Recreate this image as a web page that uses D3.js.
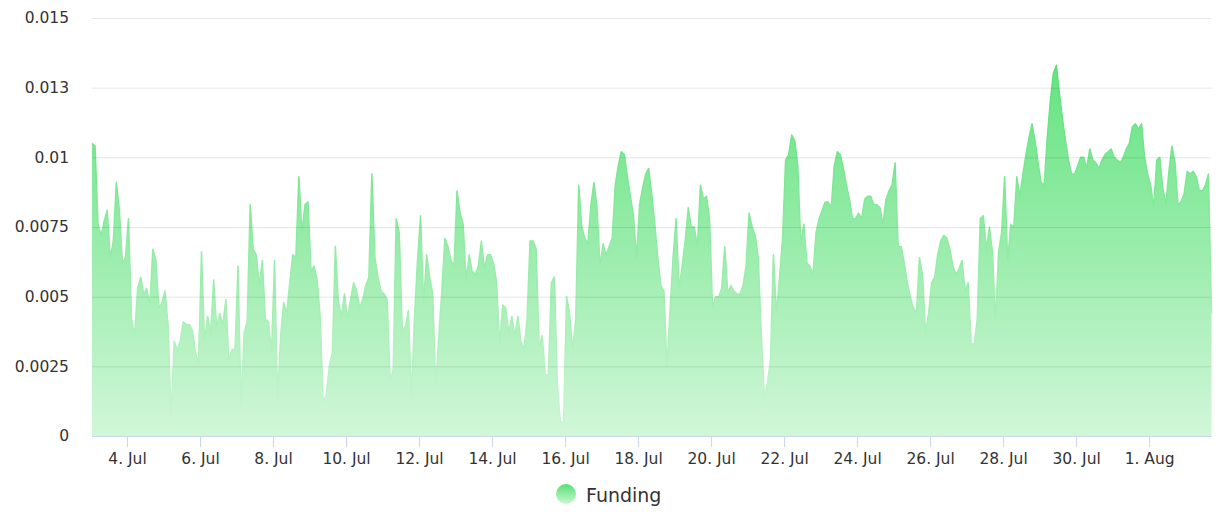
<!DOCTYPE html>
<html>
<head>
<meta charset="utf-8">
<script src="https://cdn.jsdelivr.net/npm/d3@7"></script>
<style>
  html, body { margin: 0; padding: 0; background: #ffffff; }
  svg { display: block; font-family: "DejaVu Sans", Verdana, sans-serif; }
</style>
</head>
<body>
<svg id="chart" width="1224" height="516"></svg>
<script>
// ---- data ----
const seriesName = "Funding";
const startTime = "2023-07-03T01:00:00Z";
const stepHours = 2;
const funding = [
  0.0105,0.0104,0.0076,0.0072,0.0077,0.0081,0.0064,0.0070,0.0091,0.0081,
  0.0062,0.0064,0.0078,0.0042,0.0036,0.0053,0.0057,0.0051,0.0053,0.0047,
  0.0067,0.0063,0.0046,0.0048,0.0052,0.0040,0.0007,0.0034,0.0031,0.0034,
  0.0041,0.0040,0.0040,0.0038,0.0030,0.0026,0.0066,0.0034,0.0043,0.0037,
  0.0056,0.0039,0.0044,0.0040,0.0049,0.0027,0.0031,0.0031,0.0061,0.0011,
  0.0037,0.0041,0.0083,0.0067,0.0065,0.0054,0.0063,0.0042,0.0041,0.0030,
  0.0063,0.0014,0.0036,0.0048,0.0044,0.0055,0.0065,0.0064,0.0093,0.0073,
  0.0083,0.0084,0.0059,0.0061,0.0056,0.0043,0.0012,0.0015,0.0025,0.0030,
  0.0068,0.0048,0.0043,0.0051,0.0042,0.0049,0.0055,0.0052,0.0046,0.0049,
  0.0054,0.0057,0.0094,0.0064,0.0057,0.0052,0.0051,0.0049,0.0020,0.0024,
  0.0078,0.0073,0.0038,0.0039,0.0045,0.0014,0.0043,0.0063,0.0079,0.0048,
  0.0065,0.0057,0.0051,0.0018,0.0036,0.0052,0.0071,0.0068,0.0063,0.0061,
  0.0088,0.0080,0.0076,0.0056,0.0065,0.0059,0.0058,0.0061,0.0070,0.0060,
  0.0065,0.0065,0.0062,0.0055,0.0033,0.0047,0.0046,0.0037,0.0043,0.0036,
  0.0043,0.0034,0.0031,0.0042,0.0070,0.0070,0.0067,0.0032,0.0036,0.0022,
  0.0022,0.0055,0.0057,0.0018,0.0005,0.0005,0.0050,0.0044,0.0031,0.0042,
  0.0090,0.0075,0.0071,0.0069,0.0083,0.0091,0.0082,0.0061,0.0069,0.0065,
  0.0068,0.0071,0.0090,0.0097,0.0102,0.0101,0.0093,0.0086,0.0079,0.0064,
  0.0083,0.0089,0.0094,0.0096,0.0087,0.0076,0.0064,0.0054,0.0052,0.0025,
  0.0045,0.0064,0.0078,0.0053,0.0061,0.0070,0.0082,0.0075,0.0075,0.0068,
  0.0090,0.0085,0.0086,0.0078,0.0046,0.0050,0.0050,0.0053,0.0068,0.0051,
  0.0054,0.0052,0.0051,0.0051,0.0054,0.0061,0.0080,0.0075,0.0072,0.0064,
  0.0037,0.0014,0.0019,0.0027,0.0065,0.0044,0.0057,0.0071,0.0099,0.0101,
  0.0108,0.0106,0.0097,0.0069,0.0076,0.0062,0.0061,0.0058,0.0073,0.0078,
  0.0081,0.0084,0.0084,0.0082,0.0097,0.0102,0.0101,0.0096,0.0090,0.0085,
  0.0078,0.0078,0.0080,0.0078,0.0085,0.0086,0.0086,0.0083,0.0083,0.0082,
  0.0076,0.0085,0.0088,0.0090,0.0098,0.0068,0.0068,0.0062,0.0055,0.0050,
  0.0046,0.0044,0.0064,0.0058,0.0037,0.0044,0.0055,0.0057,0.0065,0.0070,
  0.0072,0.0071,0.0067,0.0061,0.0058,0.0060,0.0063,0.0052,0.0055,0.0033,
  0.0033,0.0042,0.0078,0.0079,0.0067,0.0075,0.0066,0.0041,0.0066,0.0073,
  0.0093,0.0063,0.0076,0.0075,0.0093,0.0086,0.0094,0.0101,0.0107,0.0112,
  0.0106,0.0098,0.0091,0.0090,0.0107,0.0120,0.0130,0.0133,0.0123,0.0114,
  0.0106,0.0099,0.0094,0.0094,0.0097,0.0100,0.0100,0.0096,0.0103,0.0099,
  0.0098,0.0096,0.0099,0.0101,0.0102,0.0103,0.0100,0.0099,0.0098,0.0100,
  0.0103,0.0105,0.0111,0.0112,0.0110,0.0112,0.0100,0.0094,0.0090,0.0082,
  0.0099,0.0100,0.0089,0.0083,0.0095,0.0104,0.0098,0.0083,0.0084,0.0087,
  0.0095,0.0094,0.0095,0.0093,0.0088,0.0088,0.0090,0.0094,0.0044
];
const yTickValues = [0, 0.0025, 0.005, 0.0075, 0.01, 0.0125, 0.015];
const yTickLabels = ["0", "0.0025", "0.005", "0.0075", "0.01", "0.013", "0.015"];
const xTickDates = ["2023-07-04","2023-07-06","2023-07-08","2023-07-10","2023-07-12",
  "2023-07-14","2023-07-16","2023-07-18","2023-07-20","2023-07-22","2023-07-24",
  "2023-07-26","2023-07-28","2023-07-30","2023-08-01"];
const xTickLabels = ["4. Jul","6. Jul","8. Jul","10. Jul","12. Jul","14. Jul","16. Jul",
  "18. Jul","20. Jul","22. Jul","24. Jul","26. Jul","28. Jul","30. Jul","1. Aug"];

// ---- build ----
const t0 = new Date(startTime).getTime();
const data = funding.map((v, i) => ({ t: new Date(t0 + i * stepHours * 3600e3), v }));

const plot = { left: 92, right: 1211.5, top: 18, bottom: 436 };
const svg = d3.select("#chart");

const x = d3.scaleUtc()
  .domain(d3.extent(data, d => d.t))
  .range([plot.left, plot.right]);
const y = d3.scaleLinear()
  .domain([0, 0.015])
  .range([plot.bottom, plot.top]);

const defs = svg.append("defs");
const grad = defs.append("linearGradient")
  .attr("id", "fundGrad")
  .attr("gradientUnits", "userSpaceOnUse")
  .attr("x1", 0).attr("x2", 0)
  .attr("y1", y(0.0135)).attr("y2", y(0));
grad.append("stop").attr("offset", 0).attr("stop-color", "#55e074");
grad.append("stop").attr("offset", 1).attr("stop-color", "#cdf6d5");

const lgGrad = defs.append("linearGradient")
  .attr("id", "legendGrad")
  .attr("x1", 0).attr("x2", 0).attr("y1", 0).attr("y2", 1);
lgGrad.append("stop").attr("offset", 0).attr("stop-color", "#55e074");
lgGrad.append("stop").attr("offset", 1).attr("stop-color", "#cdf6d5");

// area + line
const area = d3.area()
  .x(d => x(d.t))
  .y0(y(0))
  .y1(d => y(d.v));
const line = d3.line()
  .x(d => x(d.t))
  .y(d => y(d.v));

svg.append("path")
  .datum(data)
  .attr("d", area)
  .attr("fill", "url(#fundGrad)")
  .attr("fill-opacity", 0.92);

svg.append("path")
  .datum(data)
  .attr("d", line)
  .attr("fill", "none")
  .attr("stroke", "url(#fundGrad)")
  .attr("stroke-width", 1.5)
  .attr("stroke-linejoin", "round");

// y grid + labels (grid drawn over the area, translucent)
const yAxis = d3.axisLeft(y)
  .tickValues(yTickValues)
  .tickSize(-(plot.right - plot.left))
  .tickPadding(23)
  .tickFormat((d, i) => yTickLabels[i]);

const gy = svg.append("g")
  .attr("transform", `translate(${plot.left},0)`)
  .call(yAxis);
gy.select(".domain").remove();
gy.selectAll(".tick line")
  .attr("stroke", "rgba(0,0,0,0.1)")
  .attr("stroke-width", 1);
gy.selectAll(".tick text")
  .attr("fill", "#333333")
  .style("font-size", "15.5px")
  .style("font-family", "'DejaVu Sans', Verdana, sans-serif");

// x axis
const xTicks = xTickDates.map(s => new Date(s + "T00:00:00Z"));
const xAxis = d3.axisBottom(x)
  .tickValues(xTicks)
  .tickSize(11)
  .tickPadding(6)
  .tickFormat((d, i) => xTickLabels[i]);

const gx = svg.append("g")
  .attr("transform", `translate(0,${plot.bottom})`)
  .call(xAxis);
gx.select(".domain").remove();
gx.append("line")
  .attr("x1", plot.left).attr("x2", plot.right)
  .attr("y1", 0.5).attr("y2", 0.5)
  .attr("stroke", "#ccd6eb").attr("stroke-width", 1);
gx.selectAll(".tick line")
  .attr("stroke", "#ccd6eb")
  .attr("stroke-width", 1);
gx.selectAll(".tick text")
  .attr("fill", "#333333")
  .style("font-size", "15.5px")
  .style("font-family", "'DejaVu Sans', Verdana, sans-serif");

// legend
const legend = svg.append("g").attr("transform", "translate(566,494)");
legend.append("circle")
  .attr("r", 10)
  .attr("fill", "url(#legendGrad)");
legend.append("text")
  .attr("x", 20)
  .attr("y", 8)
  .attr("fill", "#333333")
  .style("font-size", "19px")
  .style("font-family", "'DejaVu Sans', Verdana, sans-serif")
  .text(seriesName);
</script>
</body>
</html>
